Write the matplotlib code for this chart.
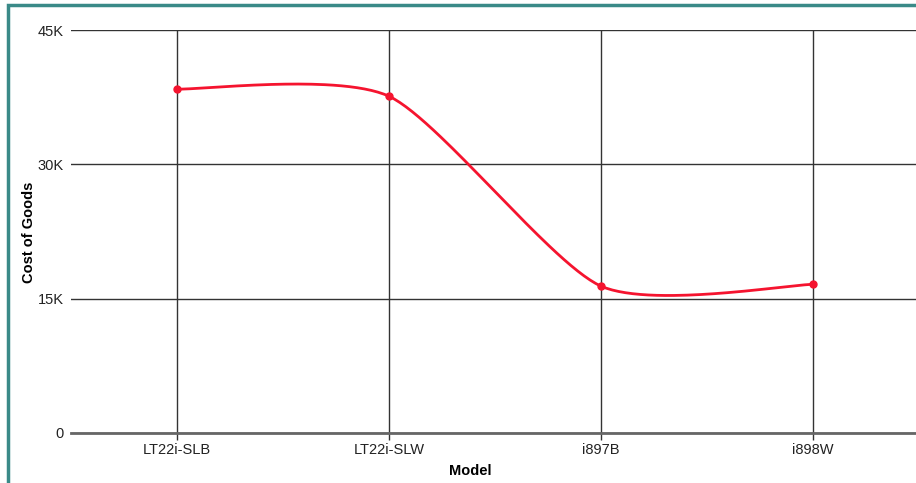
import numpy as np
import matplotlib
matplotlib.use("Agg")
import matplotlib.pyplot as plt
from matplotlib.patches import Rectangle
from matplotlib.ticker import FuncFormatter

models = ["LT22i-SLB", "LT22i-SLW", "i897B", "i898W"]
cost_of_goods = [38400, 37600, 16400, 16600]
y_ticks = [0, 15000, 30000, 45000]

RED = "#f5142f"
GRID = "#333333"


def cardinal_curve(xs, ys, tension=0.3, n=60):
    """Cardinal spline through the points (endpoints duplicated, like d3)."""
    xs = np.asarray(xs, float)
    ys = np.asarray(ys, float)
    px = np.concatenate([[xs[0]], xs, [xs[-1]]])
    py = np.concatenate([[ys[0]], ys, [ys[-1]]])
    k = (1 - tension) / 2
    out_x, out_y = [], []
    t = np.linspace(0, 1, n)
    h00 = 2 * t**3 - 3 * t**2 + 1
    h10 = t**3 - 2 * t**2 + t
    h01 = -2 * t**3 + 3 * t**2
    h11 = t**3 - t**2
    for i in range(1, len(px) - 2):
        mx0 = k * (px[i + 1] - px[i - 1])
        my0 = k * (py[i + 1] - py[i - 1])
        mx1 = k * (px[i + 2] - px[i])
        my1 = k * (py[i + 2] - py[i])
        out_x.append(h00 * px[i] + h10 * mx0 + h01 * px[i + 1] + h11 * mx1)
        out_y.append(h00 * py[i] + h10 * my0 + h01 * py[i + 1] + h11 * my1)
    return np.concatenate(out_x), np.concatenate(out_y)


W, H = 916, 483
fig = plt.figure(figsize=(W / 100, H / 100), dpi=100)
plt.rcParams["font.family"] = ["Liberation Sans", "DejaVu Sans"]

# teal frame around the widget
fig.patches.append(Rectangle((8 / W, -0.05), 1.1, (H - 5) / H + 0.05, transform=fig.transFigure,
                             fill=False, edgecolor="#3a8a88", linewidth=2.5, clip_on=False))

ax = fig.add_axes([71 / W, (H - 433) / H, 848 / W, 403 / H])
x = np.arange(len(models))

cx, cy = cardinal_curve(x, cost_of_goods)
ax.plot(cx, cy, color=RED, linewidth=2, solid_capstyle="round", zorder=3, clip_on=False)
ax.plot(x, cost_of_goods, "o", color=RED, markersize=5, zorder=4, clip_on=False)

ax.set_xlim(-0.5, len(models) - 0.5)
ax.set_ylim(0, 45000)
ax.set_xticks(x)
ax.set_xticklabels(models)
ax.set_yticks(y_ticks)
ax.yaxis.set_major_formatter(FuncFormatter(lambda v, p: "0" if v == 0 else f"{int(v / 1000)}K"))

ax.grid(True, color=GRID, linewidth=1)
ax.set_axisbelow(True)
for s in ["top", "right", "left"]:
    ax.spines[s].set_visible(False)
ax.spines["bottom"].set_color("#666666")
ax.spines["bottom"].set_linewidth(2)
ax.tick_params(axis="x", length=5, width=1, color=GRID, pad=2, labelsize=10.5, labelcolor="#222222")
ax.tick_params(axis="y", length=0, pad=5, labelsize=10.5, labelcolor="#222222")

ax.set_xlabel("Model", fontweight="bold", fontsize=10.5)
ax.set_ylabel("Cost of Goods", fontweight="bold", fontsize=10.5)
ax.xaxis.set_label_coords((470 - 71) / 848, -31 / 403)
ax.yaxis.set_label_coords((36 - 71) / 848, (433 - 232) / 403)

fig.savefig("out.png", dpi=100)
